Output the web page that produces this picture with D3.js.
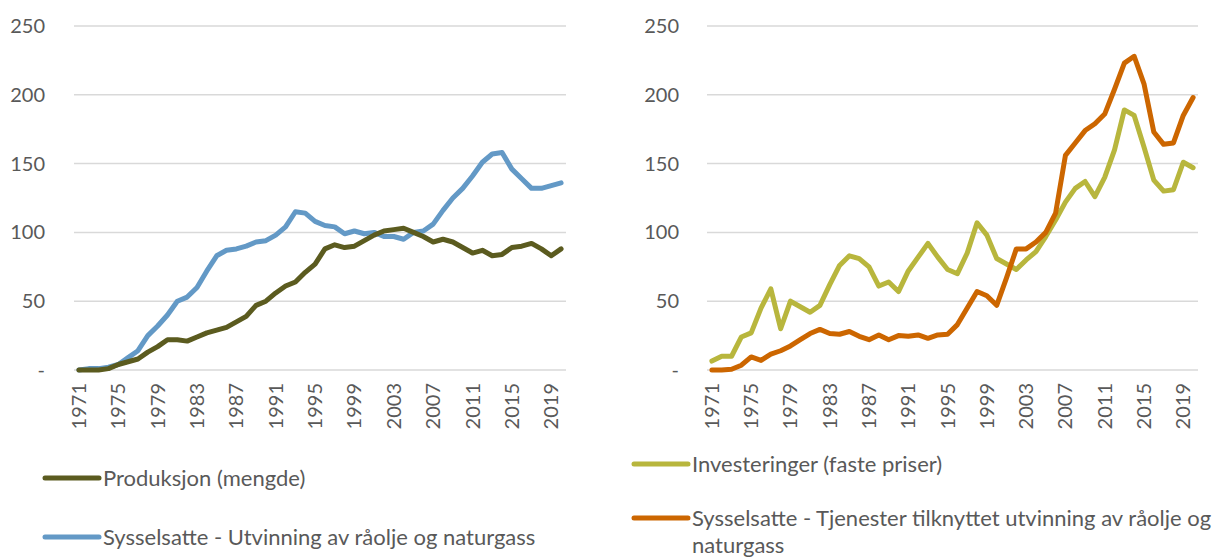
<script src="https://d3js.org/d3.v7.min.js"></script>
<style>
  body { margin: 0; background: #fff; }
  svg text { font-family: Lato, "Open Sans", sans-serif; fill: #595959; }
</style>
<body>
<script>
  // years 1971-2020, labels every 4th year
  const years = d3.range(1971, 2021);
  const yTicks = [0, 50, 100, 150, 200, 250];

  // left panel
  const produksjon = [0, 0, 0, 1, 4, 6, 8, 13, 17, 22, 22, 21, 24, 27, 29, 31, 35, 39, 47, 50,
    56, 61, 64, 71, 77, 88, 91, 89, 90, 94, 98, 101, 102, 103, 100, 97, 93, 95, 93, 89,
    85, 87, 83, 84, 89, 90, 92, 88, 83, 88];
  const sysselUtvinning = [0, 1, 1, 2, 4, 9, 14, 25, 32, 40, 50, 53, 60, 72, 83, 87, 88, 90, 93, 94,
    98, 104, 115, 114, 108, 105, 104, 99, 101, 99, 100, 97, 97, 95, 100, 101, 106, 116, 125, 132,
    141, 151, 157, 158, 146, 139, 132, 132, 134, 136];

  // right panel
  const investeringer = [6.5, 10, 10, 24, 27, 45, 59, 30, 50, 46, 42, 47, 62, 76, 83, 81, 75, 61, 64, 57,
    72, 82, 92, 82, 73, 70, 85, 107, 98, 81, 77, 73, 80, 86, 97, 109, 122, 132, 137, 126,
    140, 160, 189, 185, 162, 138, 130, 131, 151, 147];
  const sysselTjenester = [0, 0, 0.5, 3.5, 9.5, 7, 11.5, 14, 17.5, 22, 26.5, 29.5, 26.5, 26, 28, 24.5, 22, 25.5, 22, 25,
    24.5, 25.5, 23, 25.5, 26, 33, 45, 57, 54, 47, 67, 88, 88, 93, 100, 114, 156, 165, 174, 179,
    186, 204, 223, 228, 208, 173, 164, 165, 185, 198];

  const svg = d3.select("body").append("svg")
    .attr("width", 1221)
    .attr("height", 559);

  function panel(x0, x1, labelX, series) {
    const x = d3.scaleBand().domain(years).range([x0, x1]);
    const y = d3.scaleLinear().domain([0, 250]).range([370, 26]);
    const g = svg.append("g");

    g.selectAll(".grid")
      .data(yTicks)
      .enter()
      .append("line")
      .attr("x1", x0).attr("x2", x1)
      .attr("y1", d => y(d)).attr("y2", d => y(d))
      .attr("stroke", "#d9d9d9")
      .attr("stroke-width", 1.5);

    g.selectAll(".ylab")
      .data(yTicks)
      .enter()
      .append("text")
      .attr("x", labelX)
      .attr("y", d => y(d))
      .attr("dy", "0.35em")
      .attr("text-anchor", "end")
      .attr("font-size", "20px")
      .text(d => d === 0 ? "-" : d);

    g.selectAll(".xlab")
      .data(years.filter((d, i) => i % 4 === 0))
      .enter()
      .append("text")
      .attr("transform", d => "translate(" + (x(d) + x.bandwidth() / 2) + ",383) rotate(-90)")
      .attr("dy", "0.35em")
      .attr("text-anchor", "end")
      .attr("font-size", "20px")
      .text(d => d);

    const line = d3.line()
      .x((d, i) => x(years[i]) + x.bandwidth() / 2)
      .y(d => y(d));

    series.forEach(s => {
      g.append("path")
        .datum(s.values)
        .attr("d", line)
        .attr("fill", "none")
        .attr("stroke", s.color)
        .attr("stroke-width", 5)
        .attr("stroke-linejoin", "round")
        .attr("stroke-linecap", "round");
    });
  }

  panel(74, 566, 45, [
    { values: sysselUtvinning, color: "#6399c6" },
    { values: produksjon, color: "#5b5b1f" }
  ]);
  panel(707, 1198, 679, [
    { values: investeringer, color: "#b8b63d" },
    { values: sysselTjenester, color: "#cc6600" }
  ]);

  // legends
  const legend = [
    { x: 45, y: 478, color: "#5b5b1f", lines: ["Produksjon (mengde)"] },
    { x: 45, y: 537, color: "#6399c6", lines: ["Sysselsatte - Utvinning av råolje og naturgass"] },
    { x: 634, y: 464, color: "#b8b63d", lines: ["Investeringer (faste priser)"] },
    { x: 634, y: 518, color: "#cc6600", lines: ["Sysselsatte - Tjenester tilknyttet utvinning av råolje og", "naturgass"] }
  ];

  const lg = svg.selectAll(".legend")
    .data(legend)
    .enter()
    .append("g");

  lg.append("line")
    .attr("x1", d => d.x).attr("x2", d => d.x + 54)
    .attr("y1", d => d.y).attr("y2", d => d.y)
    .attr("stroke", d => d.color)
    .attr("stroke-width", 5)
    .attr("stroke-linecap", "round");

  lg.each(function(d) {
    d3.select(this).selectAll("text")
      .data(d.lines)
      .enter()
      .append("text")
      .attr("x", d.x + 58)
      .attr("y", (t, i) => d.y + i * 27)
      .attr("dy", "0.35em")
      .attr("font-size", "22px")
      .text(t => t);
  });
</script>
</body>
